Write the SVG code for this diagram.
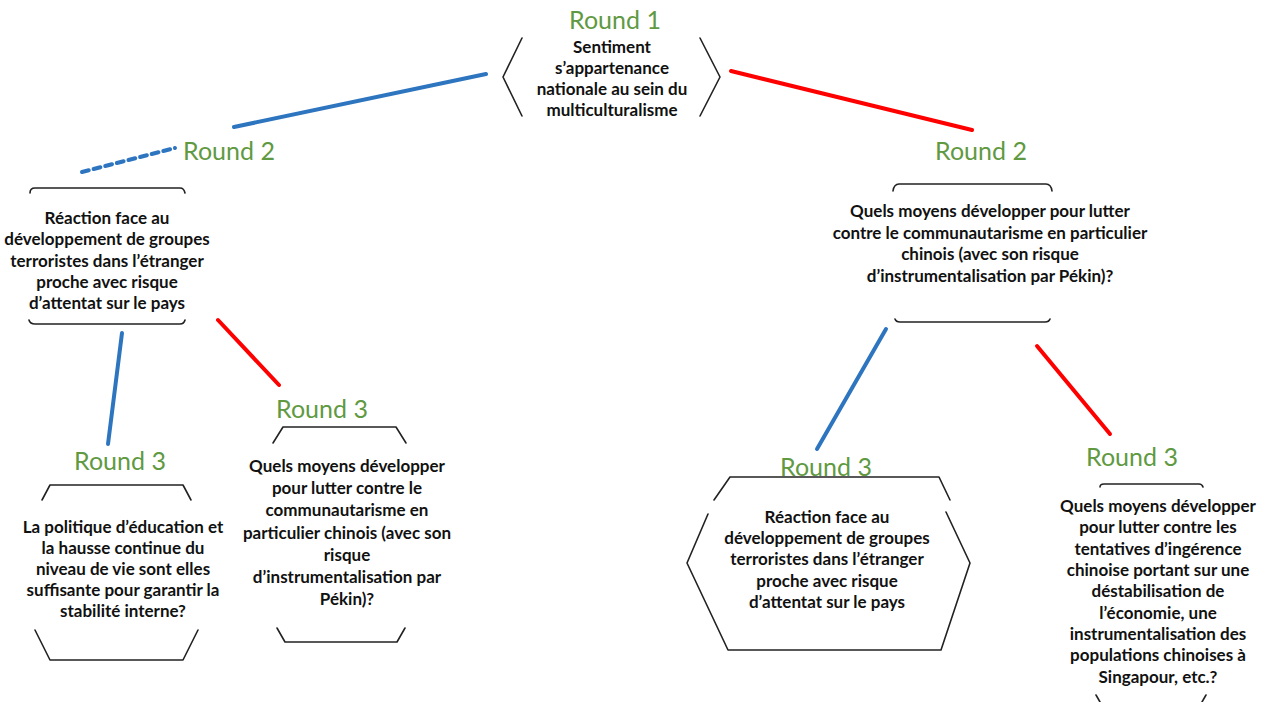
<svg xmlns="http://www.w3.org/2000/svg" width="1268" height="702" viewBox="0 0 1268 702">
  <style>
    .round { font-family: Lato, "Liberation Sans", sans-serif; font-size: 25px; fill: #5f9a42; text-anchor: middle; }
    .q { font-family: Lato, "Liberation Sans", sans-serif; font-size: 17px; font-weight: bold; fill: #111; text-anchor: middle; }
    .frame { fill: none; stroke: #222; stroke-width: 1.6; stroke-linejoin: round; stroke-linecap: round; }
    .yes { stroke: #2e75c0; stroke-width: 4; stroke-linecap: round; fill: none; }
    .no { stroke: #ff0000; stroke-width: 4; stroke-linecap: round; fill: none; }
  </style>
  <rect width="1268" height="702" fill="#ffffff"/>

  <!-- connectors between rounds -->
  <g id="connectors">
    <line class="yes" x1="486" y1="74" x2="234" y2="127"/>
    <line class="no" x1="731" y1="71" x2="972" y2="130"/>
    <line class="yes" x1="82" y1="172" x2="175" y2="148" stroke-width="2.6" stroke-dasharray="7 5" stroke-linecap="butt"/>
    <line class="yes" x1="122" y1="333" x2="108" y2="444"/>
    <line class="no" x1="218" y1="320" x2="279" y2="385"/>
    <line class="yes" x1="886" y1="329" x2="817" y2="449"/>
    <line class="no" x1="1037" y1="346" x2="1110" y2="434"/>
  </g>

  <!-- round labels -->
  <g id="labels">
    <text class="round" x="615" y="29">Round 1</text>
    <text class="round" x="229" y="160">Round 2</text>
    <text class="round" x="981" y="160">Round 2</text>
    <text class="round" x="120" y="470">Round 3</text>
    <text class="round" x="322" y="418">Round 3</text>
    <text class="round" x="826" y="476">Round 3</text>
    <text class="round" x="1132" y="466">Round 3</text>
  </g>

  <!-- round 1 -->
  <g id="node-r1">
    <polyline class="frame" points="522,38 503,77 522,116"/>
    <polyline class="frame" points="700,38 720,77 700,116"/>
    <text class="q" x="612" y="53">Sentiment</text>
    <text class="q" x="612" y="74">s’appartenance</text>
    <text class="q" x="612" y="95">nationale au sein du</text>
    <text class="q" x="612" y="116">multiculturalisme</text>
  </g>

  <!-- round 2, left -->
  <g id="node-r2-left">
    <path class="frame" d="M30,193 Q30,188 35,188 L180,188 Q184,188 185,193"/>
    <path class="frame" d="M29,320 Q30,324 35,324 L180,324 Q184,324 185,320"/>
    <text class="q" x="107" y="224">Réaction face au</text>
    <text class="q" x="107" y="245">développement de groupes</text>
    <text class="q" x="107" y="267">terroristes dans l’étranger</text>
    <text class="q" x="107" y="288">proche avec risque</text>
    <text class="q" x="107" y="309">d’attentat sur le pays</text>
  </g>

  <!-- round 2, right -->
  <g id="node-r2-right">
    <path class="frame" d="M893,191 Q894,184 899,184 L1046,184 Q1051,184 1052,191"/>
    <path class="frame" d="M895,319 Q896,322 900,322 L1045,322 Q1049,322 1050,319"/>
    <text class="q" x="990" y="217">Quels moyens développer pour lutter</text>
    <text class="q" x="990" y="239">contre le communautarisme en particulier</text>
    <text class="q" x="990" y="260">chinois (avec son risque</text>
    <text class="q" x="990" y="282">d’instrumentalisation par Pékin)?</text>
  </g>

  <!-- round 3, first -->
  <g id="node-r3-a">
    <polyline class="frame" points="42,500 50,485 183,485 191,500"/>
    <polyline class="frame" points="35,630 50,660 183,660 198,630"/>
    <text class="q" x="123" y="533">La politique d’éducation et</text>
    <text class="q" x="123" y="554">la hausse continue du</text>
    <text class="q" x="123" y="575">niveau de vie sont elles</text>
    <text class="q" x="123" y="596">suffisante pour garantir la</text>
    <text class="q" x="123" y="617">stabilité interne?</text>
  </g>

  <!-- round 3, second -->
  <g id="node-r3-b">
    <polyline class="frame" points="273,443 283,427 396,427 406,443"/>
    <polyline class="frame" points="277,628 285,642 397,642 405,628"/>
    <text class="q" x="347" y="472">Quels moyens développer</text>
    <text class="q" x="347" y="494">pour lutter contre le</text>
    <text class="q" x="347" y="516">communautarisme en</text>
    <text class="q" x="347" y="539">particulier chinois (avec son</text>
    <text class="q" x="347" y="561">risque</text>
    <text class="q" x="347" y="583">d’instrumentalisation par</text>
    <text class="q" x="347" y="605">Pékin)?</text>
  </g>

  <!-- round 3, third -->
  <g id="node-r3-c">
    <polyline class="frame" points="714,500 730,477 939,477 950,500"/>
    <polyline class="frame" points="708,514 687,563 728,650 941,650 970,563 946,512"/>
    <text class="q" x="827" y="523">Réaction face au</text>
    <text class="q" x="827" y="544">développement de groupes</text>
    <text class="q" x="827" y="565">terroristes dans l’étranger</text>
    <text class="q" x="827" y="587">proche avec risque</text>
    <text class="q" x="827" y="608">d’attentat sur le pays</text>
  </g>

  <!-- round 3, fourth -->
  <g id="node-r3-d">
    <path class="frame" d="M1100,487 Q1100,484 1104,484 L1199,484 Q1202,484 1203,487"/>
    <line class="frame" x1="1096" y1="695" x2="1100" y2="702"/>
    <line class="frame" x1="1206" y1="695" x2="1202" y2="702"/>
    <text class="q" x="1158" y="512">Quels moyens développer</text>
    <text class="q" x="1158" y="533">pour lutter contre les</text>
    <text class="q" x="1158" y="555">tentatives d’ingérence</text>
    <text class="q" x="1158" y="576">chinoise portant sur une</text>
    <text class="q" x="1158" y="597">déstabilisation de</text>
    <text class="q" x="1158" y="619">l’économie, une</text>
    <text class="q" x="1158" y="640">instrumentalisation des</text>
    <text class="q" x="1158" y="661">populations chinoises à</text>
    <text class="q" x="1158" y="683">Singapour, etc.?</text>
  </g>
</svg>
